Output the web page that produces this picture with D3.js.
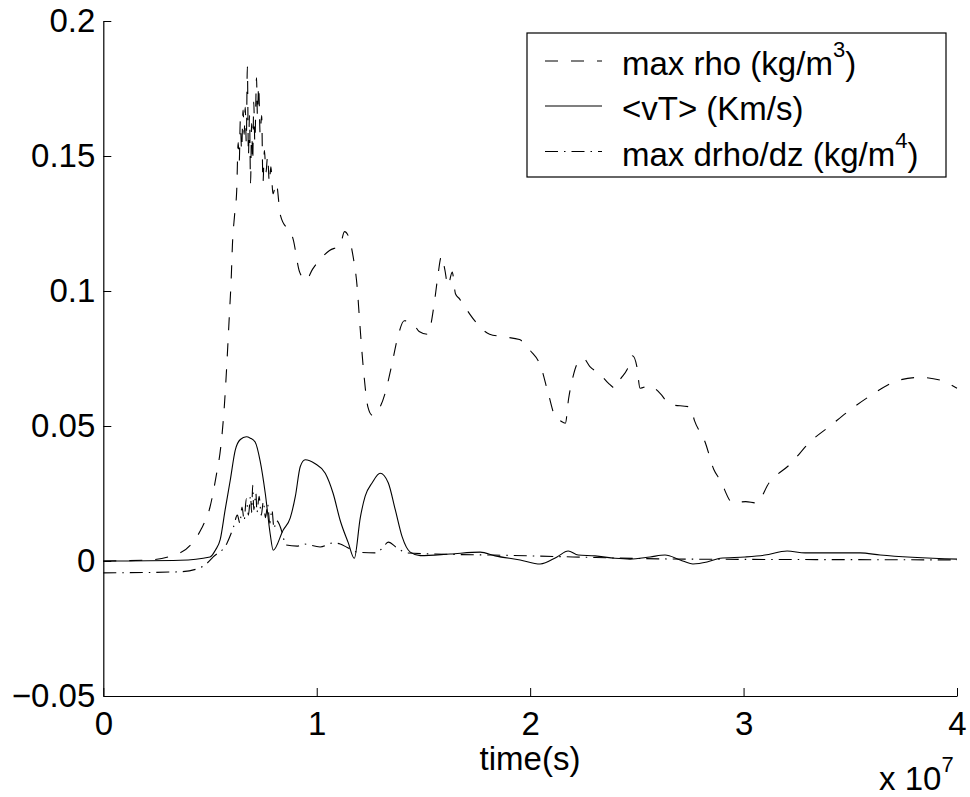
<!DOCTYPE html>
<html>
<head>
<meta charset="utf-8">
<script src="https://cdn.jsdelivr.net/npm/d3@7"></script>
<style>
  html, body { margin: 0; padding: 0; background: #fff; }
  svg { display: block; }
  text { font-family: "Liberation Sans", Arial, Helvetica, sans-serif; fill: #000; }
</style>
</head>
<body>
<svg id="chart" width="970" height="797"></svg>
<script>
// ---- data (time in units of 1e7 s) ----
const xTicks = [0, 1, 2, 3, 4];
const yTicks = [-0.05, 0, 0.05, 0.1, 0.15, 0.2];
const yTickLabels = ["\u22120.05", "0", "0.05", "0.1", "0.15", "0.2"];
const seriesNames = ["max rho (kg/m", "<vT> (Km/s)", "max drho/dz (kg/m"];
const seriesSup = ["3", "", "4"];

const rhoT = [0, 0.2, 0.36, 0.42, 0.46, 0.50, 0.53, 0.55, 0.565, 0.59, 0.60, 0.605, 0.615, 0.625,
  0.632, 0.637, 0.642, 0.648, 0.655, 0.66, 0.665, 0.67, 0.675, 0.68, 0.685, 0.69, 0.695, 0.70, 0.705, 0.71,
  0.718, 0.722, 0.728, 0.735, 0.742, 0.748, 0.755, 0.762, 0.77, 0.778, 0.785, 0.795, 0.81, 0.83,
  0.89, 0.92, 0.95, 0.98, 1.06, 1.11, 1.13, 1.15, 1.17, 1.19, 1.20, 1.22, 1.24, 1.26, 1.29, 1.32, 1.35, 1.38,
  1.41, 1.45, 1.48, 1.52, 1.55, 1.565, 1.585, 1.60, 1.615, 1.635, 1.65, 1.67, 1.695, 1.74, 1.81, 1.88, 1.95,
  2.00, 2.05, 2.085, 2.12, 2.14, 2.165, 2.18, 2.20, 2.22, 2.25, 2.28, 2.33, 2.365, 2.40, 2.42, 2.455, 2.48,
  2.50, 2.515, 2.56, 2.61, 2.655, 2.75, 2.77, 2.82, 2.86, 2.89, 2.95, 3.01, 3.06, 3.12, 3.22, 3.31, 3.405,
  3.50, 3.59, 3.73, 3.83, 3.92, 4.0];
const rhoV = [0, 0.0003, 0.003, 0.007, 0.012, 0.02, 0.032, 0.042, 0.055, 0.09, 0.106, 0.117, 0.128, 0.137,
  0.155, 0.148, 0.163, 0.152, 0.167, 0.158, 0.168, 0.155, 0.183, 0.15, 0.165, 0.14, 0.162, 0.148, 0.17, 0.155,
  0.179, 0.165, 0.176, 0.158, 0.165, 0.14, 0.152, 0.144, 0.15, 0.14, 0.146, 0.136, 0.14, 0.128,
  0.119, 0.107, 0.104, 0.108, 0.115, 0.117, 0.122, 0.12, 0.113, 0.101, 0.09, 0.07, 0.057, 0.054, 0.056, 0.062, 0.072, 0.083,
  0.089, 0.088, 0.085, 0.084, 0.095, 0.104, 0.113, 0.108, 0.102, 0.107, 0.099, 0.097, 0.094, 0.089, 0.084, 0.083, 0.082,
  0.078, 0.072, 0.062, 0.053, 0.052, 0.051, 0.06, 0.068, 0.073, 0.075, 0.072, 0.069, 0.066, 0.064, 0.067, 0.071, 0.076,
  0.072, 0.064, 0.065, 0.062, 0.058, 0.057, 0.052, 0.044, 0.034, 0.03, 0.0215, 0.022, 0.0215, 0.029, 0.036, 0.044, 0.05,
  0.056, 0.061, 0.067, 0.068, 0.067, 0.064];

const vtT = [0, 0.36, 0.50, 0.525, 0.548, 0.571, 0.595, 0.618, 0.642, 0.67, 0.689, 0.712, 0.735, 0.759, 0.782, 0.796,
  0.843, 0.876, 0.90, 0.923, 0.946, 0.993, 1.04, 1.077, 1.11, 1.148, 1.176, 1.204, 1.227, 1.26, 1.297, 1.335,
  1.368, 1.40, 1.438, 1.485, 1.625, 1.766, 1.836, 1.953, 2.047, 2.126, 2.178, 2.225, 2.304, 2.398, 2.468, 2.562,
  2.632, 2.703, 2.763, 2.829, 2.89, 3.007, 3.10, 3.204, 3.288, 3.546, 3.64, 4.0];
const vtV = [0, 0.0003, 0.0015, 0.004, 0.008, 0.019, 0.03, 0.041, 0.045, 0.046, 0.0455, 0.044, 0.037, 0.025, 0.01, 0.004,
  0.0115, 0.016, 0.024, 0.035, 0.0375, 0.036, 0.0325, 0.025, 0.015, 0.0067, 0.001, 0.016, 0.024, 0.029, 0.0325, 0.029,
  0.019, 0.009, 0.0033, 0.002, 0.0026, 0.0033, 0.0019, 0.0004, -0.0011, 0.0015, 0.0037, 0.0022, 0.0019, 0.001, 0.0007, 0.0015,
  0.0022, 0.0004, -0.0011, -0.0004, 0.001, 0.0015, 0.0022, 0.0037, 0.003, 0.003, 0.0022, 0.0007];

const drhoT = [0, 0.36, 0.45, 0.485, 0.515, 0.58, 0.61, 0.628,
  0.64, 0.65, 0.66, 0.67, 0.68, 0.69, 0.695, 0.70, 0.705, 0.715, 0.72, 0.73, 0.74, 0.75, 0.76, 0.77, 0.78, 0.79, 0.80, 0.81,
  0.843, 0.852, 0.908, 0.937, 1.016, 1.077, 1.11, 1.143, 1.19, 1.28, 1.312, 1.335, 1.377, 1.424, 1.6, 1.83, 2.2, 2.6, 3.0, 3.5, 4.0];
const drhoV = [-0.0044, -0.004, -0.0026, -0.0009, 0.0015, 0.0067, 0.0126, 0.017,
  0.014, 0.02, 0.015, 0.023, 0.017, 0.024, 0.018, 0.028, 0.019, 0.025, 0.018, 0.024, 0.017, 0.022, 0.016, 0.021, 0.014, 0.019, 0.012, 0.015,
  0.009, 0.006, 0.0055, 0.0063, 0.0052, 0.0067, 0.0063, 0.005, 0.0033, 0.003, 0.0052, 0.007, 0.0048, 0.003, 0.0025, 0.0022, 0.0015, 0.0008, 0.0006, 0.0005, 0.0004];

// ---- layout ----
const svg = d3.select("#chart");
const x = d3.scaleLinear().domain([0, 4]).range([103.3, 957]);
const y = d3.scaleLinear().domain([-0.05, 0.2]).range([696, 21]);
const FS = 33;

const zip = (ts, vs) => ts.map((t, i) => [t, vs[i]]);
const series = [
  { data: zip(rhoT, rhoV), dash: "13,13" },
  { data: zip(vtT, vtV), dash: null },
  { data: zip(drhoT, drhoV), dash: "13,6,1.5,6" }
];

const line = d3.line().x(d => x(d[0])).y(d => y(d[1])).curve(d3.curveMonotoneX);

series.forEach(s => {
  svg.append("path")
    .datum(s.data)
    .attr("d", line)
    .attr("fill", "none")
    .attr("stroke", "#000")
    .attr("stroke-width", 1.1)
    .attr("stroke-dasharray", s.dash);
});

// axes
const xAxis = d3.axisBottom(x).tickValues(xTicks).tickFormat(d3.format("d"))
  .tickSizeInner(-8).tickSizeOuter(0).tickPadding(16);
const gx = svg.append("g").attr("transform", `translate(0,${y(-0.05)})`).call(xAxis);
gx.selectAll("text").attr("font-size", FS).attr("font-family", "Liberation Sans, Arial, sans-serif");

const yAxis = d3.axisLeft(y).tickValues(yTicks).tickFormat((d, i) => yTickLabels[i])
  .tickSizeInner(-8).tickSizeOuter(0).tickPadding(8);
const gy = svg.append("g").attr("transform", `translate(${x(0)},0)`).call(yAxis);
gy.selectAll("text").attr("font-size", FS).attr("font-family", "Liberation Sans, Arial, sans-serif");

[gx, gy].forEach(g => {
  g.selectAll("path.domain").attr("stroke", "#000").attr("stroke-width", 1.2);
  g.selectAll(".tick line").attr("stroke", "#000");
});

// axis label
svg.append("text").attr("x", 530).attr("y", 770).attr("text-anchor", "middle")
  .attr("font-size", FS).text("time(s)");

// exponent
const ex = svg.append("text").attr("x", 879).attr("y", 790).attr("font-size", FS);
ex.append("tspan").text("x 10");
ex.append("tspan").attr("font-size", 22).attr("dy", -18).text("7");

// legend
const lg = svg.append("g");
lg.append("rect").attr("x", 527).attr("y", 33).attr("width", 419).attr("height", 144)
  .attr("fill", "#fff").attr("stroke", "#000").attr("stroke-width", 1.2);
const rowY = [61, 106, 151.5];
series.forEach((s, i) => {
  lg.append("line").attr("x1", 545).attr("x2", 602).attr("y1", rowY[i]).attr("y2", rowY[i])
    .attr("stroke", "#000").attr("stroke-width", 1.1).attr("stroke-dasharray", s.dash);
  const t = lg.append("text").attr("x", 622).attr("y", rowY[i] + 14).attr("font-size", FS);
  t.append("tspan").text(seriesNames[i]);
  if (seriesSup[i]) {
    t.append("tspan").attr("font-size", 22).attr("dy", -18).text(seriesSup[i]);
    t.append("tspan").attr("dy", 18).text(")");
  }
});
</script>
</body>
</html>
